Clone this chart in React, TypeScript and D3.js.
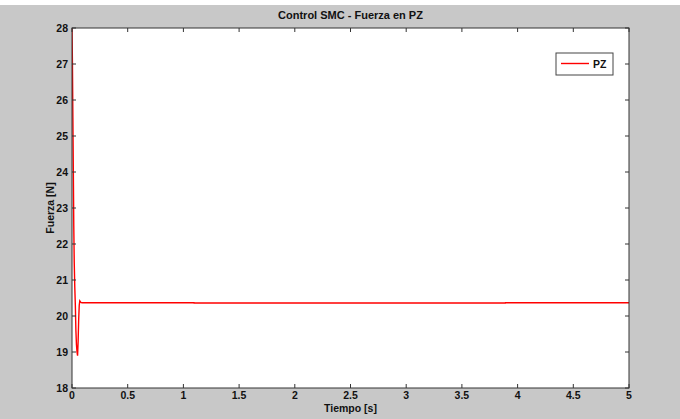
import React from "react";
import * as d3 from "d3";

const timeS = [0, 0.004, 0.008, 0.012, 0.016, 0.02, 0.025, 0.03, 0.035, 0.04, 0.045, 0.05, 0.055, 0.06, 0.065, 0.07, 0.075, 0.08, 0.09, 0.1, 1.095, 1.096, 3.89, 3.891, 5];
const forceN = [28, 27, 25.5, 24, 22.5, 21.5, 20.8, 20.3, 19.6, 19.2, 19.0, 18.9, 19.3, 19.9, 20.3, 20.42, 20.4, 20.38, 20.37, 20.37, 20.37, 20.36, 20.36, 20.37, 20.37];
const xTicks = [0, 0.5, 1, 1.5, 2, 2.5, 3, 3.5, 4, 4.5, 5];
const yTicks = [18, 19, 20, 21, 22, 23, 24, 25, 26, 27, 28];
const titleText = "Control SMC - Fuerza en PZ";
const xLabel = "Tiempo [s]";
const yLabel = "Fuerza [N]";
const seriesName = "PZ";

export default function App() {
  const W = 680, H = 419;
  const L = 72, T = 28, R = 629, B = 388;
  const x = d3.scaleLinear().domain([0, 5]).range([L, R]);
  const y = d3.scaleLinear().domain([18, 28]).range([B, T]);
  const line = d3.line<number>().x((_, i) => x(timeS[i])).y((d) => y(d));
  const font = "'Liberation Sans', Arial, sans-serif";
  const tk = 4;
  const fs = 10.5;
  return (
    <svg width={W} height={H} style={{ position: "absolute", left: 0, top: 0 }} fontFamily={font}>
      <rect x={0} y={0} width={W} height={H} fill="#ffffff" />
      <rect x={0} y={5} width={W} height={H - 5} fill="#c8c8c8" />
      <rect x={L} y={T} width={R - L} height={B - T} fill="#ffffff" />
      <defs>
        <clipPath id="plotclip">
          <rect x={L} y={T - 1} width={R - L} height={B - T + 2} />
        </clipPath>
      </defs>
      <path d={line(forceN) || ""} fill="none" stroke="#ff0000" strokeWidth={1.4} clipPath="url(#plotclip)" />
      <rect x={L} y={T} width={R - L} height={B - T} fill="none" stroke="#333" strokeWidth={1} />
      {xTicks.map((t) => (
        <g key={"x" + t}>
          <line x1={x(t)} x2={x(t)} y1={B} y2={B - tk} stroke="#333" />
          <line x1={x(t)} x2={x(t)} y1={T} y2={T + tk} stroke="#333" />
          <text x={x(t)} y={398.5} textAnchor="middle" fontSize={fs} fontWeight="bold" fill="#111">{t}</text>
        </g>
      ))}
      {yTicks.map((t) => (
        <g key={"y" + t}>
          <line x1={L} x2={L + tk} y1={y(t)} y2={y(t)} stroke="#333" />
          <line x1={R} x2={R - tk} y1={y(t)} y2={y(t)} stroke="#333" />
          <text x={68} y={y(t) + 4} textAnchor="end" fontSize={fs} fontWeight="bold" fill="#111">{t}</text>
        </g>
      ))}
      <text x={(L + R) / 2} y={19} textAnchor="middle" fontSize={11} fontWeight="bold" fill="#111">{titleText}</text>
      <text x={(L + R) / 2} y={412} textAnchor="middle" fontSize={fs} fontWeight="bold" fill="#111">{xLabel}</text>
      <text transform={`translate(54,${(T + B) / 2}) rotate(-90)`} textAnchor="middle" fontSize={fs} fontWeight="bold" fill="#111">{yLabel}</text>
      <rect x={556} y={53} width={57} height={22} fill="#ffffff" stroke="#444" strokeWidth={1} />
      <line x1={561} x2={589} y1={63.5} y2={63.5} stroke="#ff0000" strokeWidth={1.4} />
      <text x={593} y={67.5} fontSize={fs} fontWeight="bold" fill="#111">{seriesName}</text>
    </svg>
  );
}
